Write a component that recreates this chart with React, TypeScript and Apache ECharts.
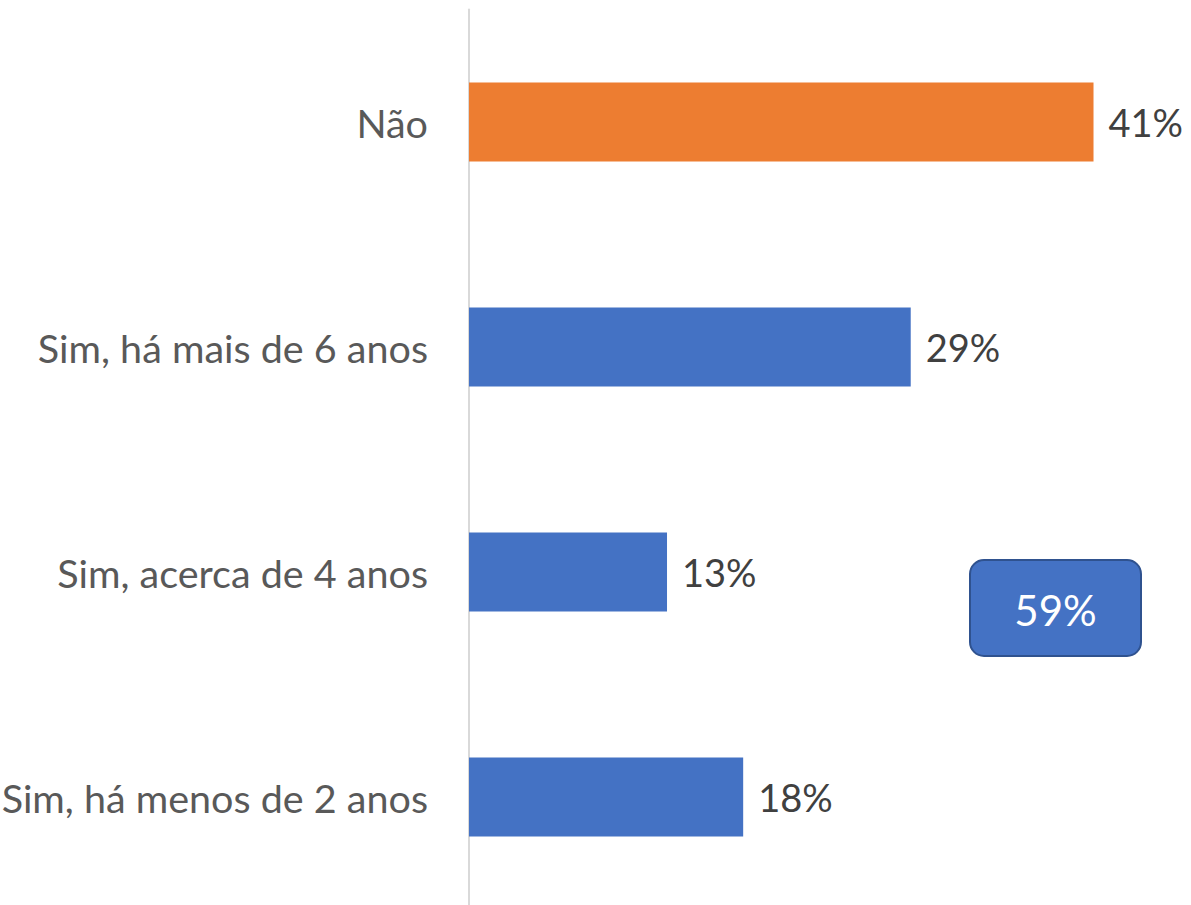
import React, { useEffect, useRef } from "react";
import * as echarts from "echarts";

const categories = ["Não", "Sim, há mais de 6 anos", "Sim, acerca de 4 anos", "Sim, há menos de 2 anos"];
const values = [41, 29, 13, 18];
const barColors = ["#ED7D31", "#4472C4", "#4472C4", "#4472C4"];
const totalLabel = "59%";

export default function App() {
  const ref = useRef<HTMLDivElement>(null);
  useEffect(() => {
    document.body.style.margin = "0";
    const chart = echarts.init(ref.current!, null, { renderer: "svg" });
    const font = "Lato, 'Open Sans', sans-serif";
    chart.setOption({
      animation: false,
      grid: { left: 469, right: 0, top: 9.5, bottom: -4.5, containLabel: false, outerBoundsMode: "none" },
      xAxis: {
        type: "value",
        min: 0,
        max: 47.4,
        show: false,
      },
      yAxis: {
        type: "category",
        inverse: true,
        data: categories,
        axisTick: { show: false },
        axisLine: { show: true, lineStyle: { color: "#D9D9D9", width: 2 } },
        axisLabel: { color: "#595959", fontSize: 39.5, fontFamily: font, margin: 41 },
        splitLine: { show: false },
      },
      series: [
        {
          type: "bar",
          barWidth: 79,
          data: values.map((v, i) => ({ value: v, itemStyle: { color: barColors[i] } })),
          label: {
            show: true,
            position: "right",
            distance: 15,
            color: "#404040",
            fontSize: 38,
            fontFamily: font,
            formatter: (p: any) => p.value + "%",
          },
        },
      ],
      graphic: [
        {
          type: "group",
          left: 969,
          top: 559,
          children: [
            {
              type: "rect",
              shape: { x: 0, y: 0, width: 171, height: 96, r: 14 },
              style: { fill: "#4472C4", stroke: "#2F528F", lineWidth: 2 },
            },
            {
              type: "text",
              x: 85.5,
              y: 50,
              style: {
                text: totalLabel,
                fill: "#FFFFFF",
                fontSize: 42,
                fontFamily: font,
                align: "center",
                verticalAlign: "middle",
              },
            },
          ],
        },
      ],
    });
    return () => chart.dispose();
  }, []);
  return <div ref={ref} style={{ position: "absolute", left: 0, top: 0, width: 1191, height: 905 }} />;
}
